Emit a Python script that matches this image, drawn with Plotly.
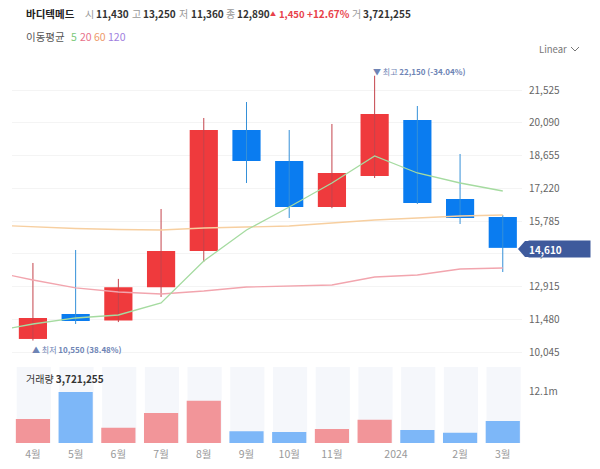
import plotly.graph_objects as go

# 월봉 데이터
months = [0, 1, 2, 3, 4, 5, 6, 7, 8, 9, 10, 11]
month_labels = ["4월", "5월", "6월", "7월", "8월", "9월", "10월", "11월", "2024", "2월", "3월"]
month_ticks = [0, 1, 2, 3, 4, 5, 6, 7, 8.5, 10, 11]
opens = [10620, 11714, 11430, 12890, 14473, 19773, 18415, 16400, 17758, 20211, 16751, 15963]
highs = [13948, 14517, 13250, 16313, 20299, 20999, 19773, 20036, 22150, 20824, 18722, 16050]
lows = [10550, 11276, 11360, 12459, 13991, 17452, 15919, 16350, 17671, 16532, 15656, 13553]
closes = [11539, 11407, 12890, 14473, 19773, 18415, 16400, 17890, 20474, 16576, 15919, 14610]
volumes = [5.7, 12.1, 3.6, 7.1, 10.0, 2.8, 2.6, 3.3, 5.5, 3.1, 2.4, 5.2]
volume_max = [18.0] * 12

# 이동평균 (첫 값은 화면 왼쪽 밖의 달)
ma_x = [-1, 0, 1, 2, 3, 4, 5, 6, 7, 8, 9, 10, 11]
ma5 = [10925, 11276, 11539, 11670, 12196, 14035, 15393, 16400, 17452, 18634, 17890, 17452, 17101]
ma20 = [13597, 13203, 12853, 12677, 12590, 12721, 12896, 12940, 12984, 13334, 13422, 13685, 13729]
ma60 = [15612, 15524, 15459, 15415, 15393, 15481, 15524, 15568, 15700, 15831, 15919, 16006, 16050]

price_ticks = [21525, 20090, 18655, 17220, 15785, 14350, 12915, 11480, 10045]

RED, BLUE = "#EF3A3D", "#0A7CF0"
FONT = "Noto Sans CJK KR"


def px(x):
    return x / 600


def py(y):
    return 1 - y / 469


fig = go.Figure()

# 꼬리
for is_up, color in [(True, "#C4444C"), (False, "#3590D8")]:
    wx, wy = [], []
    for m, o, h, l, c in zip(months, opens, highs, lows, closes):
        if (c > o) == is_up:
            wx += [m, m, None]
            wy += [l, h, None]
    fig.add_trace(go.Scatter(x=wx, y=wy, mode="lines", line=dict(color=color, width=1)))

# 몸통
fig.add_trace(go.Bar(
    x=months,
    base=[min(o, c) for o, c in zip(opens, closes)],
    y=[abs(c - o) for o, c in zip(opens, closes)],
    width=0.66,
    marker=dict(color=[RED if c > o else BLUE for o, c in zip(opens, closes)], line_width=0),
))

for values, color in [(ma60, "#F7CFA0"), (ma20, "#F2A5AE"), (ma5, "#A5DBA0")]:
    fig.add_trace(go.Scatter(x=ma_x, y=values, mode="lines", line=dict(color=color, width=1.3)))

# 거래량
fig.add_trace(go.Bar(x=months, y=volume_max, yaxis="y2", width=0.8, offset=-0.38,
                     marker=dict(color="#F5F7FB", line_width=0)))
fig.add_trace(go.Bar(x=months, y=volumes, yaxis="y2", width=0.8,
                     marker=dict(color=["#F29599" if c > o else "#7DB7F8" for o, c in zip(opens, closes)],
                                 line_width=0)))

fig.update_layout(
    width=600, height=469, margin=dict(l=0, r=0, t=0, b=0),
    paper_bgcolor="white", plot_bgcolor="white", showlegend=False, barmode="overlay",
    font=dict(family=FONT, size=11, color="#666666"),
    xaxis=dict(domain=[px(12), px(522)], range=[-0.49, 11.45], anchor="y2",
               tickmode="array", tickvals=month_ticks, ticktext=month_labels,
               showgrid=False, zeroline=False, showline=False, ticks="outside", ticklen=1,
               tickcolor="white", tickfont=dict(size=10.5, color="#999999")),
    yaxis=dict(domain=[py(362), py(60)], range=[9611, 22839], side="right", anchor="x",
               tickmode="array", tickvals=price_ticks, tickformat=",",
               showgrid=True, gridcolor="#F4F4F4", zeroline=False, showline=False,
               ticks="outside", ticklen=4, tickcolor="white", tickfont=dict(size=10, color="#666666")),
    yaxis2=dict(domain=[py(443), py(367)], range=[0, 18.0], side="right", anchor="x",
                tickmode="array", tickvals=[12.1], ticktext=["12.1m"],
                showgrid=False, zeroline=False, showline=False,
                ticks="outside", ticklen=4, tickcolor="white", tickfont=dict(size=10, color="#666666")),
)


def label(x, y, text, size=11, color="#333333"):
    fig.add_annotation(xref="paper", yref="paper", x=px(x), y=py(y), text=text, showarrow=False,
                       xanchor="left", yanchor="middle", borderpad=0,
                       font=dict(family=FONT, size=size, color=color))


# 상단 정보
label(25, 14, "<b>바디텍메드</b>", 10.5, "#222222")
for x, t in [(84, "시"), (131, "고"), (178, "저"), (225, "종"), (351, "거")]:
    label(x, 14, t, 10, "#999999")
for x, t in [(95, "11,430"), (142, "13,250"), (190, "11,360"), (236, "12,890"), (362, "3,721,255")]:
    label(x, 14, "<b>" + t + "</b>", 10, "#333333")
label(269, 14, "▲", 6, "#E8414A")
label(278, 14, "<b>1,450</b>", 9.5, "#E8414A")
label(306, 14, "<b>+12.67%</b>", 10, "#E8414A")

label(25, 37, "이동평균", 10.5, "#555555")
label(70, 37, "5", 10.5, "#7AC97A")
label(79, 37, "20", 10.5, "#E8708A")
label(93, 37, "60", 10.5, "#EE9A6A")
label(107, 37, "120", 10.5, "#A080E0")

label(538, 49, "Linear", 9.5, "#777777")
fig.add_shape(type="path", xref="paper", yref="paper",
              path=f"M {px(571)} {py(47)} L {px(575)} {py(51)} L {px(579)} {py(47)}",
              line=dict(color="#777777", width=1))

# 최고, 최저
label(372, 71, "▼ 최고 <b>22,150 (-34.04%)</b>", 8, "#6E84B5")
label(31, 349, "▲ 최저 <b>10,550 (38.48%)</b>", 8, "#6E84B5")
label(25, 378, "거래량 <b>3,721,255</b>", 10, "#333333")

# 현재가 태그
fig.add_shape(type="path", xref="paper", yref="paper", fillcolor="#3E5A9C", line_width=0,
              path=f"M {px(518)} {py(249)} L {px(525)} {py(241)} L {px(589)} {py(241)} "
                   f"L {px(589)} {py(257)} L {px(525)} {py(257)} Z")
fig.add_annotation(xref="paper", yref="paper", x=px(528), y=py(249), text="<b>14,610</b>", showarrow=False,
                   xanchor="left", yanchor="middle", width=61, height=16, align="left", borderpad=0,
                   bgcolor="#3E5A9C", font=dict(family=FONT, size=10, color="white"))

# 기본 body 여백 제거
fig.write_html("out.html", config={"displayModeBar": False}, post_script="document.body.style.margin='0';")
